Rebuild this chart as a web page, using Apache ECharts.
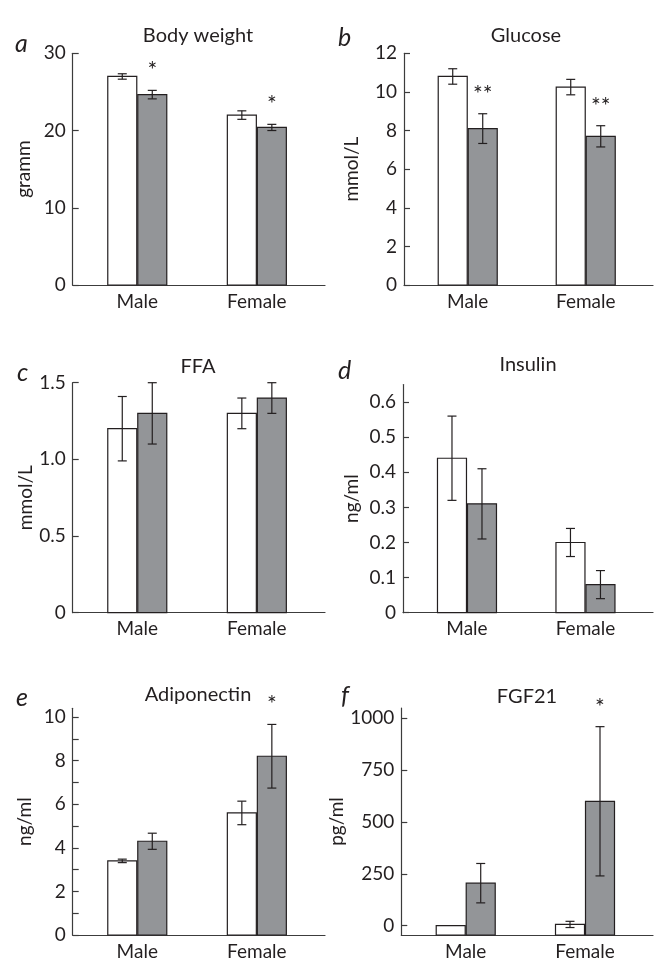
<!DOCTYPE html>
<html><head><meta charset="utf-8">
<script src="https://cdn.jsdelivr.net/npm/echarts@6/dist/echarts.min.js"></script>
<style>html,body{margin:0;padding:0;background:#fff}#c{width:656px;height:962px}</style>
</head><body><div id="c"></div>
<script>
const groups = ['Male', 'Female'];

// a: Body weight (gramm)
const bwCtrl = [27.0, 22.0];
const bwCtrlErr = [0.35, 0.55];
const bwTreat = [24.65, 20.4];
const bwTreatErr = [0.55, 0.4];
const bwStars = ['*', '*'];
const bwTicks = [0, 10, 20, 30];
const bwTickLabels = ['0', '10', '20', '30'];

// b: Glucose (mmol/L)
const gluCtrl = [10.8, 10.25];
const gluCtrlErr = [0.4, 0.4];
const gluTreat = [8.1, 7.7];
const gluTreatErr = [0.77, 0.55];
const gluStars = ['**', '**'];
const gluTicks = [0, 2, 4, 6, 8, 10, 12];
const gluTickLabels = ['0', '2', '4', '6', '8', '10', '12'];

// c: FFA (mmol/L)
const ffaCtrl = [1.2, 1.3];
const ffaCtrlErr = [0.21, 0.1];
const ffaTreat = [1.3, 1.4];
const ffaTreatErr = [0.2, 0.1];
const ffaStars = ['', ''];
const ffaTicks = [0, 0.5, 1.0, 1.5];
const ffaTickLabels = ['0', '0.5', '1.0', '1.5'];

// d: Insulin (ng/ml)
const insCtrl = [0.44, 0.2];
const insCtrlErr = [0.12, 0.04];
const insTreat = [0.31, 0.08];
const insTreatErr = [0.1, 0.04];
const insStars = ['', ''];
const insTicks = [0, 0.1, 0.2, 0.3, 0.4, 0.5, 0.6];
const insTickLabels = ['0', '0.1', '0.2', '0.3', '0.4', '0.5', '0.6'];

// e: Adiponectin (ng/ml)
const adiCtrl = [3.4, 5.6];
const adiCtrlErr = [0.08, 0.54];
const adiTreat = [4.3, 8.2];
const adiTreatErr = [0.37, 1.46];
const adiStars = ['', '*'];
const adiTicks = [0, 1, 2, 3, 4, 5, 6, 7, 8, 9, 10];
const adiLabelTicks = [0, 2, 4, 6, 8, 10];
const adiTickLabels = ['0', '2', '4', '6', '8', '10'];

// f: FGF21 (pg/ml)
const fgfCtrl = [0, 6];
const fgfCtrlErr = [0, 15];
const fgfTreat = [205, 600];
const fgfTreatErr = [95, 360];
const fgfStars = ['', '*'];
const fgfTicks = [0, 250, 500, 750, 1000];
const fgfTickLabels = ['0', '250', '500', '750', '1000'];

const INK = '#231f20';
const AXIS = '#3c3c3c';
const GRAY = '#939598';
const FONT = 'Lato';
const FS = 19;

const panels = [
  {letter:'a', title:'Body weight', yName:'gramm', nameGap:39, ctrl:bwCtrl, ctrlErr:bwCtrlErr, treat:bwTreat, treatErr:bwTreatErr, stars:bwStars,
   ticks:bwTicks, labelTicks:bwTicks, labels:bwTickLabels, min:0, max:30,
   grid:{left:72.7, top:53.3, width:252.3, height:231.7}, titlePos:[198,36], letterPos:[15,31]},
  {letter:'b', title:'Glucose', yName:'mmol/L', nameGap:43, ctrl:gluCtrl, ctrlErr:gluCtrlErr, treat:gluTreat, treatErr:gluTreatErr, stars:gluStars,
   ticks:gluTicks, labelTicks:gluTicks, labels:gluTickLabels, min:0, max:12,
   grid:{left:404, top:53.3, width:249, height:231.7}, titlePos:[526,36], letterPos:[338,25]},
  {letter:'c', title:'FFA', yName:'mmol/L', nameGap:37, ctrl:ffaCtrl, ctrlErr:ffaCtrlErr, treat:ffaTreat, treatErr:ffaTreatErr, stars:ffaStars,
   ticks:ffaTicks, labelTicks:ffaTicks, labels:ffaTickLabels, min:0, max:1.5,
   grid:{left:72.7, top:382.7, width:252.3, height:230}, titlePos:[198,367], letterPos:[17,360]},
  {letter:'d', title:'Insulin', yName:'ng/ml', nameGap:42, ctrl:insCtrl, ctrlErr:insCtrlErr, treat:insTreat, treatErr:insTreatErr, stars:insStars,
   ticks:insTicks, labelTicks:insTicks, labels:insTickLabels, min:0, max:0.65,
   grid:{left:403, top:384.5, width:250, height:228.2}, titlePos:[528,365], letterPos:[338,358]},
  {letter:'e', title:'Adiponectin', yName:'ng/ml', nameGap:38, ctrl:adiCtrl, ctrlErr:adiCtrlErr, treat:adiTreat, treatErr:adiTreatErr, stars:adiStars,
   ticks:adiTicks, labelTicks:adiLabelTicks, labels:adiTickLabels, min:0, max:10.4,
   grid:{left:72.7, top:708.3, width:252.3, height:226.7}, titlePos:[198,695], letterPos:[16,685]},
  {letter:'f', title:'FGF21', yName:'pg/ml', nameGap:42, ctrl:fgfCtrl, ctrlErr:fgfCtrlErr, treat:fgfTreat, treatErr:fgfTreatErr, stars:fgfStars,
   ticks:fgfTicks, labelTicks:fgfTicks, labels:fgfTickLabels, min:-45, max:1050,
   grid:{left:401.3, top:708, width:251.7, height:227}, titlePos:[527,697], letterPos:[341,683]}
];

function makeRenderer(errs, stars, side, fill, base) {
  return function (params, api) {
    const i = params.dataIndex;
    const x = api.value(0), v = api.value(1), e = errs[i];
    const top = api.coord([x, v]);
    const bot = api.coord([x, base]);
    const x0 = side < 0 ? top[0] - 29.5 : top[0] + 0.5;
    const cx = x0 + 14.5;
    const children = [{
      type: 'rect',
      shape: {x: x0, y: top[1], width: 29, height: bot[1] - top[1]},
      style: {fill: fill, stroke: INK, lineWidth: 1.2}
    }];
    if (e > 0) {
      const p1 = api.coord([x, v + e]);
      const p2 = api.coord([x, v - e]);
      const ls = {stroke: INK, lineWidth: 1.2};
      children.push({type: 'line', shape: {x1: cx, y1: p1[1], x2: cx, y2: p2[1]}, style: ls});
      children.push({type: 'line', shape: {x1: cx - 4.5, y1: p1[1], x2: cx + 4.5, y2: p1[1]}, style: ls});
      children.push({type: 'line', shape: {x1: cx - 4.5, y1: p2[1], x2: cx + 4.5, y2: p2[1]}, style: ls});
    }
    if (stars && stars[i]) {
      const pt = api.coord([x, v + (e || 0)]);
      children.push({type: 'text', style: {text: stars[i], x: cx, y: pt[1] - 8, align: 'center', verticalAlign: 'bottom',
        fontSize: 23, fontFamily: FONT, fill: INK}});
    }
    return {type: 'group', children: children};
  };
}

const option = {animation: false, backgroundColor: '#fff', grid: [], xAxis: [], yAxis: [], series: [], graphic: []};

panels.forEach(function (p, k) {
  option.grid.push(Object.assign({containLabel: false}, p.grid));
  option.xAxis.push({
    type: 'value', gridIndex: k, min: -0.54, max: 1.57,
    axisLine: {show: true, onZero: false, lineStyle: {color: AXIS, width: 1.2}},
    axisTick: {show: false},
    splitLine: {show: false},
    axisLabel: {customValues: [0, 1], formatter: function (v) { return groups[Math.round(v)]; },
      color: INK, fontFamily: FONT, fontSize: FS, margin: 7, showMinLabel: true, showMaxLabel: true}
  });
  option.yAxis.push({
    type: 'value', gridIndex: k, min: p.min, max: p.max,
    name: p.yName, nameLocation: 'middle', nameGap: p.nameGap, nameRotate: 90,
    nameTextStyle: {color: INK, fontFamily: FONT, fontSize: FS},
    axisLine: {show: true, onZero: false, lineStyle: {color: AXIS, width: 1.2}},
    axisTick: {show: true, inside: true, length: 6, customValues: p.ticks, lineStyle: {color: AXIS, width: 1.2}},
    splitLine: {show: false},
    axisLabel: {customValues: p.labelTicks,
      formatter: (function (pp) { return function (v) {
        for (let j = 0; j < pp.labelTicks.length; j++) { if (Math.abs(pp.labelTicks[j] - v) < 1e-9) return pp.labels[j]; }
        return ''; }; })(p),
      color: INK, fontFamily: FONT, fontSize: FS, margin: 7, showMinLabel: true, showMaxLabel: true}
  });
  const base = p.min;
  option.series.push({
    type: 'custom', xAxisIndex: k, yAxisIndex: k, clip: false,
    renderItem: makeRenderer(p.ctrlErr, null, -1, '#ffffff', base),
    encode: {x: 0, y: 1},
    data: p.ctrl.map(function (v, i) { return [i, v]; })
  });
  option.series.push({
    type: 'custom', xAxisIndex: k, yAxisIndex: k, clip: false,
    renderItem: makeRenderer(p.treatErr, p.stars, 1, GRAY, base),
    encode: {x: 0, y: 1},
    data: p.treat.map(function (v, i) { return [i, v]; })
  });
  option.graphic.push({type: 'text', x: p.titlePos[0], y: p.titlePos[1],
    style: {text: p.title, align: 'center', verticalAlign: 'middle', fontSize: 20, fontFamily: FONT, fill: INK}});
  option.graphic.push({type: 'text', x: p.letterPos[0], y: p.letterPos[1],
    style: {text: p.letter, align: 'left', verticalAlign: 'alphabetic', fontSize: 25, fontStyle: 'italic', fontFamily: FONT, fill: INK}});
});

const chart = echarts.init(document.getElementById('c'), null, {renderer: 'canvas'});
chart.setOption(option);
</script>
</body></html>
